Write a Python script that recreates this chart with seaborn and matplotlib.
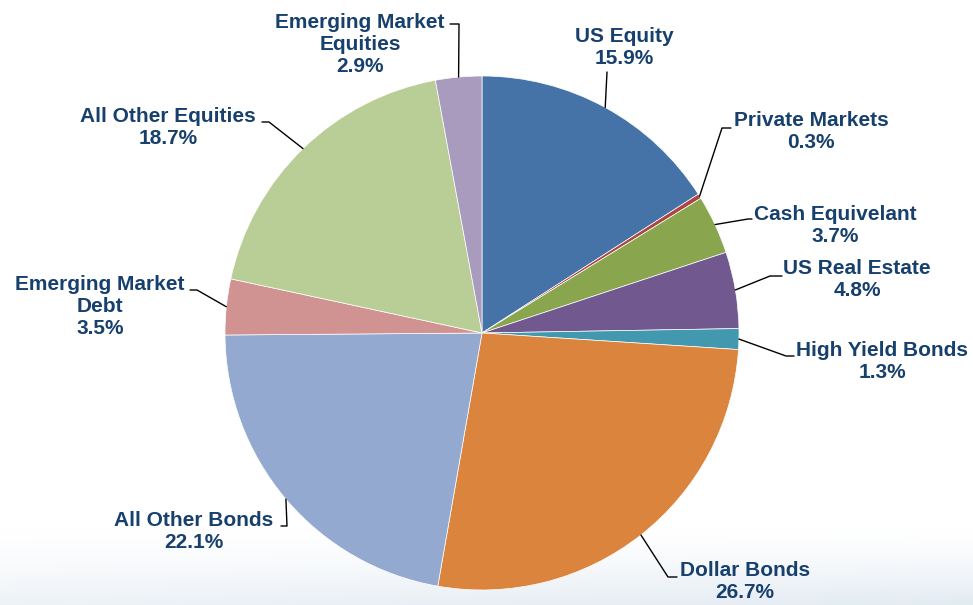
import matplotlib.pyplot as plt
import numpy as np
import seaborn as sns

# allocation data
labels = ["US Equity", "Private Markets", "Cash Equivelant", "US Real Estate",
          "High Yield Bonds", "Dollar Bonds", "All Other Bonds",
          "Emerging Market\nDebt", "All Other Equities", "Emerging Market\nEquities"]
shares = [15.9, 0.3, 3.7, 4.8, 1.3, 26.7, 22.1, 3.5, 18.7, 2.9]
colors = ["#4573A7", "#AA4643", "#89A54E", "#71588F", "#4198AF",
          "#DB843D", "#93A9CF", "#D19392", "#B9CD96", "#A99BBD"]

# label layout in pixel coords (from top-left): text centre, leader elbow, leader end
text_pos = [(624, 47), (811, 132), (835, 225), (857, 280), (882, 362),
            (745, 582), (194, 532), (100, 306), (168, 127), (360, 44)]
elbows = [(607, 72), (722, 128), (748, 219), (770, 276), (786, 356),
          (668, 577), (287, 526), (197, 290), (269, 122), (459, 24)]
ends = [(607, 72), (731, 128), (752, 219), (782, 276), (794, 356),
        (677, 577), (281, 526), (190, 290), (262, 122), (450, 24)]

W, H = 973, 605
CX, CY, R = 482, 333, 257

sns.set_theme(style="white")
plt.rcParams['font.family'] = ['Liberation Sans', 'DejaVu Sans']

fig = plt.figure(figsize=(W / 100, H / 100), dpi=100)
ax = fig.add_axes([0, 0, 1, 1])

# faint bluish shading along the bottom edge, a bit stronger to the right
gy = np.linspace(0, 1, 100)[:, None] ** 1.5
gx = 0.6 + 0.4 * np.linspace(0, 1, 200)[None, :]
bg = np.ones((100, 200, 4))
bg[..., 0] = 0.89
bg[..., 1] = 0.92
bg[..., 2] = 0.95
bg[..., 3] = gy * gx
ax.imshow(bg, extent=(0, W, 0, 80), aspect='auto', zorder=0)

wedges, _ = ax.pie(shares, colors=colors, startangle=90, counterclock=False,
                   center=(CX, H - CY), radius=R,
                   wedgeprops=dict(edgecolor="white", linewidth=0.5))

for w, lab, val, tp, el, en in zip(wedges, labels, shares, text_pos, elbows, ends):
    mid = np.deg2rad((w.theta1 + w.theta2) / 2)
    ex = CX + R * np.cos(mid)
    ey = (H - CY) + R * np.sin(mid)
    ax.plot([ex, el[0], en[0]], [ey, H - el[1], H - en[1]],
            color="black", lw=1, zorder=3)
    ax.text(tp[0], H - tp[1], f"{lab}\n{val}%", ha="center", va="center",
            fontsize=15, fontweight="bold", color="#17406D", linespacing=1.2)

ax.set_xlim(0, W)
ax.set_ylim(0, H)
ax.set_aspect('equal')
ax.axis('off')

fig.savefig("out.png", dpi=100, facecolor="white")
